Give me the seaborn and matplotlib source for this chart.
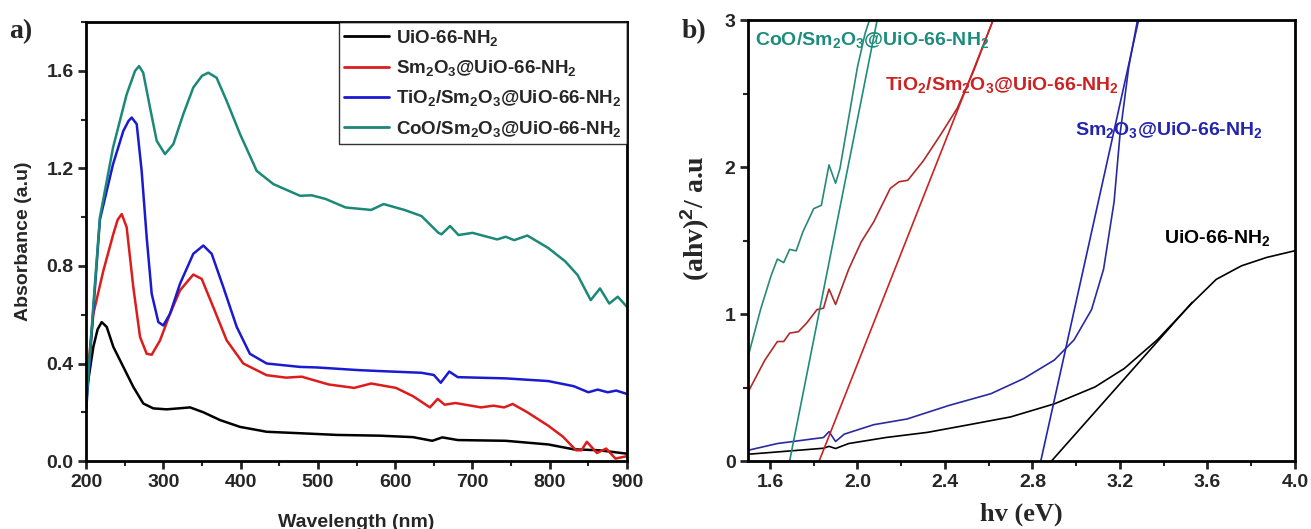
import numpy as np
import pandas as pd
import matplotlib
matplotlib.use("Agg")
import matplotlib.pyplot as plt
import seaborn as sns
from matplotlib.ticker import MultipleLocator

# ---------------- Panel a data (UV-Vis absorbance) ----------------
wl_uio = [200, 209.5, 215, 220.3, 226.8, 235.4, 248.3, 261.2, 274.1, 287, 304.4, 320, 334.6,
          351.8, 373.4, 399.3, 433.8, 476.9, 525, 580, 623, 648, 661, 681, 743, 798, 831, 864, 900]
ab_uio = [0.27, 0.468, 0.54, 0.57, 0.55, 0.468, 0.386, 0.304, 0.236, 0.216, 0.212, 0.216, 0.22,
          0.20, 0.168, 0.14, 0.12, 0.114, 0.107, 0.104, 0.098, 0.083, 0.097, 0.086, 0.083, 0.068,
          0.048, 0.044, 0.030]

wl_sm = [200, 209.5, 222.4, 235.4, 241, 246.2, 252.6, 261.2, 269.9, 278.5, 285, 295.8, 308.7,
         321.6, 338.8, 349.7, 364.7, 382, 403.5, 433.8, 459, 479, 514, 547, 569, 601, 623, 645,
         655, 664, 678, 711, 727, 741, 752, 771, 798, 817, 834, 841, 848, 861, 873, 885, 900]
ab_sm = [0.29, 0.604, 0.78, 0.932, 0.99, 1.013, 0.959, 0.713, 0.509, 0.44, 0.436, 0.495, 0.604,
         0.70, 0.765, 0.747, 0.631, 0.495, 0.40, 0.352, 0.342, 0.346, 0.314, 0.30, 0.318, 0.30,
         0.266, 0.22, 0.255, 0.231, 0.238, 0.22, 0.227, 0.22, 0.234, 0.20, 0.145, 0.10, 0.044,
         0.044, 0.079, 0.033, 0.051, 0.010, 0.020]

wl_ti = [200, 209.5, 218, 235, 248.3, 255, 259.1, 265.6, 272, 278.5, 285, 293.6, 300, 308.7,
         321.6, 338.8, 351.8, 362.6, 377.7, 395, 412, 433.8, 477, 498, 552, 580, 634, 650, 659,
         670, 681, 743, 798, 831, 850, 862, 875, 886, 900]
ab_ti = [0.20, 0.62, 0.99, 1.218, 1.354, 1.395, 1.409, 1.382, 1.19, 0.918, 0.686, 0.57, 0.556,
         0.604, 0.727, 0.85, 0.884, 0.85, 0.713, 0.55, 0.44, 0.40, 0.386, 0.384, 0.373, 0.369,
         0.362, 0.353, 0.321, 0.367, 0.344, 0.339, 0.328, 0.307, 0.282, 0.293, 0.282, 0.289,
         0.275]

wl_co = [200, 209.5, 218, 235, 252.6, 263.4, 268.6, 274, 282.8, 291.5, 302.2, 313, 325.9, 338.8,
         350, 358.2, 369, 382, 399.3, 420.9, 442.4, 476.9, 492, 510, 536, 569, 585, 612, 634,
         656, 660, 671, 682, 700, 732, 743, 754, 771, 798, 820, 836, 853, 865, 877, 888, 900]
ab_co = [0.22, 0.64, 1.0, 1.286, 1.504, 1.60, 1.62, 1.593, 1.45, 1.313, 1.259, 1.30, 1.423,
         1.532, 1.58, 1.593, 1.572, 1.477, 1.341, 1.19, 1.136, 1.088, 1.09, 1.075, 1.04, 1.03,
         1.054, 1.03, 1.005, 0.936, 0.93, 0.964, 0.927, 0.936, 0.909, 0.92, 0.906, 0.925, 0.874,
         0.819, 0.763, 0.66, 0.708, 0.646, 0.674, 0.632]

labels_a = ["UiO-66-NH$_2$", "Sm$_2$O$_3$@UiO-66-NH$_2$",
            "TiO$_2$/Sm$_2$O$_3$@UiO-66-NH$_2$", "CoO/Sm$_2$O$_3$@UiO-66-NH$_2$"]
colors_a = ["#000000", "#dd1c1c", "#1a1ad0", "#1b8878"]

# ---------------- Panel b data (Tauc plot) ----------------
ev_uio = [1.5, 1.653, 1.845, 1.87, 1.90, 1.96, 2.13, 2.32, 2.51, 2.70, 2.90, 3.086, 3.22, 3.37,
          3.53, 3.64, 3.755, 3.87, 4.0]
tc_uio = [0.046, 0.064, 0.087, 0.10, 0.085, 0.119, 0.16, 0.195, 0.247, 0.30, 0.389, 0.504, 0.63,
          0.824, 1.076, 1.236, 1.328, 1.385, 1.431]

ev_sm = [1.5, 1.634, 1.845, 1.87, 1.90, 1.94, 2.074, 2.227, 2.418, 2.61, 2.76, 2.90, 2.99, 3.07,
         3.125, 3.173, 3.20, 3.24, 3.28]
tc_sm = [0.073, 0.119, 0.16, 0.20, 0.133, 0.183, 0.247, 0.286, 0.378, 0.458, 0.561, 0.687, 0.824,
         1.03, 1.305, 1.763, 2.22, 2.68, 3.0]

ev_ti = [1.5, 1.577, 1.634, 1.663, 1.69, 1.73, 1.768, 1.815, 1.845, 1.87, 1.90, 1.96, 2.017,
         2.074, 2.15, 2.19, 2.23, 2.30, 2.38, 2.456, 2.53, 2.62]
tc_ti = [0.469, 0.687, 0.813, 0.813, 0.87, 0.88, 0.939, 1.03, 1.04, 1.17, 1.065, 1.305, 1.49,
         1.626, 1.855, 1.90, 1.91, 2.04, 2.22, 2.40, 2.65, 3.0]

ev_co = [1.5, 1.557, 1.605, 1.634, 1.663, 1.69, 1.72, 1.75, 1.80, 1.835, 1.87, 1.90, 1.92, 1.96,
         2.0, 2.035, 2.055]
tc_co = [0.71, 1.03, 1.26, 1.374, 1.35, 1.44, 1.43, 1.557, 1.717, 1.74, 2.015, 1.89, 1.99, 2.335,
         2.68, 2.91, 3.0]

# tangent (band-gap extrapolation) lines: [x0, x1], [y0, y1]
fit_uio_x, fit_uio_y = [2.887, 3.53], [0.0, 1.08]
fit_sm_x, fit_sm_y = [2.838, 3.285], [0.0, 3.0]
fit_ti_x, fit_ti_y = [1.825, 2.62], [0.0, 3.0]
fit_co_x, fit_co_y = [1.69, 2.09], [0.0, 3.0]

colors_b = {"uio": "#000000", "sm": "#2424b0", "ti": "#cc2222", "co": "#1d8c7c"}
colors_b_curve = {"uio": "#000000", "sm": "#2a2aa0", "ti": "#b02a2a", "co": "#2a8878"}

# ---------------- Plotting ----------------
sns.set_style("ticks")
plt.rcParams["font.family"] = ["Liberation Sans", "DejaVu Sans"]
plt.rcParams["mathtext.fontset"] = "custom"
plt.rcParams["mathtext.rm"] = "Liberation Sans:bold"
plt.rcParams["mathtext.it"] = "Liberation Sans:bold"
plt.rcParams["mathtext.bf"] = "Liberation Sans:bold"
plt.rcParams["mathtext.default"] = "rm"

fig = plt.figure(figsize=(13.11, 5.29), dpi=100)
axa = fig.add_axes([0.0656, 0.1285, 0.4127, 0.8295])
axb = fig.add_axes([0.5706, 0.1285, 0.4172, 0.8335])

series_a = [(wl_uio, ab_uio), (wl_sm, ab_sm), (wl_ti, ab_ti), (wl_co, ab_co)]
for (x, y), lab, col in zip(series_a, labels_a, colors_a):
    df = pd.DataFrame({"x": x, "y": y})
    sns.lineplot(data=df, x="x", y="y", ax=axa, color=col, lw=1.8, label=lab)

axa.set_xlim(200, 900)
axa.set_ylim(0, 1.8)
axa.xaxis.set_major_locator(MultipleLocator(100))
axa.xaxis.set_minor_locator(MultipleLocator(50))
axa.yaxis.set_minor_locator(MultipleLocator(0.2))
axa.set_yticks([0.0, 0.4, 0.8, 1.2, 1.6])
axa.set_yticklabels(["0.0", "0.4", "0.8", "1.2", "1.6"])
axa.set_xlabel("Wavelength (nm)", fontsize=14, fontweight="bold", labelpad=17)
axa.set_ylabel("Absorbance (a.u)", fontsize=14, fontweight="bold", labelpad=10)
leg = axa.legend(loc="upper right", fontsize=13.5, frameon=True, fancybox=False,
                 borderpad=0.3, labelspacing=0.55, handlelength=2.4, handletextpad=0.35,
                 borderaxespad=0.0)
leg.get_frame().set_edgecolor("black")
leg.get_frame().set_linewidth(1.0)
for t in leg.get_texts():
    t.set_fontweight("bold")
for l in leg.get_lines():
    l.set_linewidth(2.0)

# panel b
curves_b = [("uio", ev_uio, tc_uio), ("sm", ev_sm, tc_sm), ("ti", ev_ti, tc_ti), ("co", ev_co, tc_co)]
for key, x, y in curves_b:
    df = pd.DataFrame({"x": x, "y": y})
    sns.lineplot(data=df, x="x", y="y", ax=axb, color=colors_b_curve[key], lw=1.2)
fits_b = [("uio", fit_uio_x, fit_uio_y), ("sm", fit_sm_x, fit_sm_y),
          ("ti", fit_ti_x, fit_ti_y), ("co", fit_co_x, fit_co_y)]
for key, x, y in fits_b:
    df = pd.DataFrame({"x": x, "y": y})
    sns.lineplot(data=df, x="x", y="y", ax=axb, color=colors_b[key], lw=1.2)

axb.set_xlim(1.5, 4.0)
axb.set_ylim(0, 3)
axb.set_xticks([1.6, 2.0, 2.4, 2.8, 3.2, 3.6, 4.0])
axb.set_xticklabels(["1.6", "2.0", "2.4", "2.8", "3.2", "3.6", "4.0"])
axb.xaxis.set_minor_locator(MultipleLocator(0.2))
axb.set_yticks([0, 1, 2, 3])
axb.yaxis.set_minor_locator(MultipleLocator(0.5))
axb.set_xlabel("hv (eV)", fontsize=19, fontweight="bold", family="Liberation Serif", labelpad=9)
axb.set_ylabel(r"(ahv)$^{2}$/ a.u", fontsize=20, fontweight="bold", family="Liberation Serif")
axb.yaxis.set_label_coords(-0.066, 0.55)

tkw = dict(fontsize=14, fontweight="bold", transform=axb.transAxes, va="center", ha="left")
axb.text(0.012, 0.955, "CoO/Sm$_2$O$_3$@UiO-66-NH$_2$", color=colors_b["co"], **tkw)
axb.text(0.250, 0.853, "TiO$_2$/Sm$_2$O$_3$@UiO-66-NH$_2$", color=colors_b["ti"], **tkw)
axb.text(0.597, 0.750, "Sm$_2$O$_3$@UiO-66-NH$_2$", color=colors_b["sm"], **tkw)
axb.text(0.760, 0.505, "UiO-66-NH$_2$", color=colors_b["uio"], **tkw)

for ax in (axa, axb):
    for s in ax.spines.values():
        s.set_linewidth(2.0)
        s.set_color("black")
    ax.tick_params(which="major", direction="out", length=6, width=2, labelsize=14,
                   top=False, right=False, pad=3)
    ax.tick_params(which="minor", direction="out", length=3.5, width=1.5, top=False, right=False)
    for lbl in ax.get_xticklabels() + ax.get_yticklabels():
        lbl.set_fontweight("bold")

if axb.get_legend() is not None:
    axb.get_legend().remove()

fig.text(0.007, 0.94, "a)", fontsize=20, fontweight="bold", family="Liberation Serif", va="center")
fig.text(0.520, 0.94, "b)", fontsize=20, fontweight="bold", family="Liberation Serif", va="center")

fig.savefig("out.png", dpi=100)
